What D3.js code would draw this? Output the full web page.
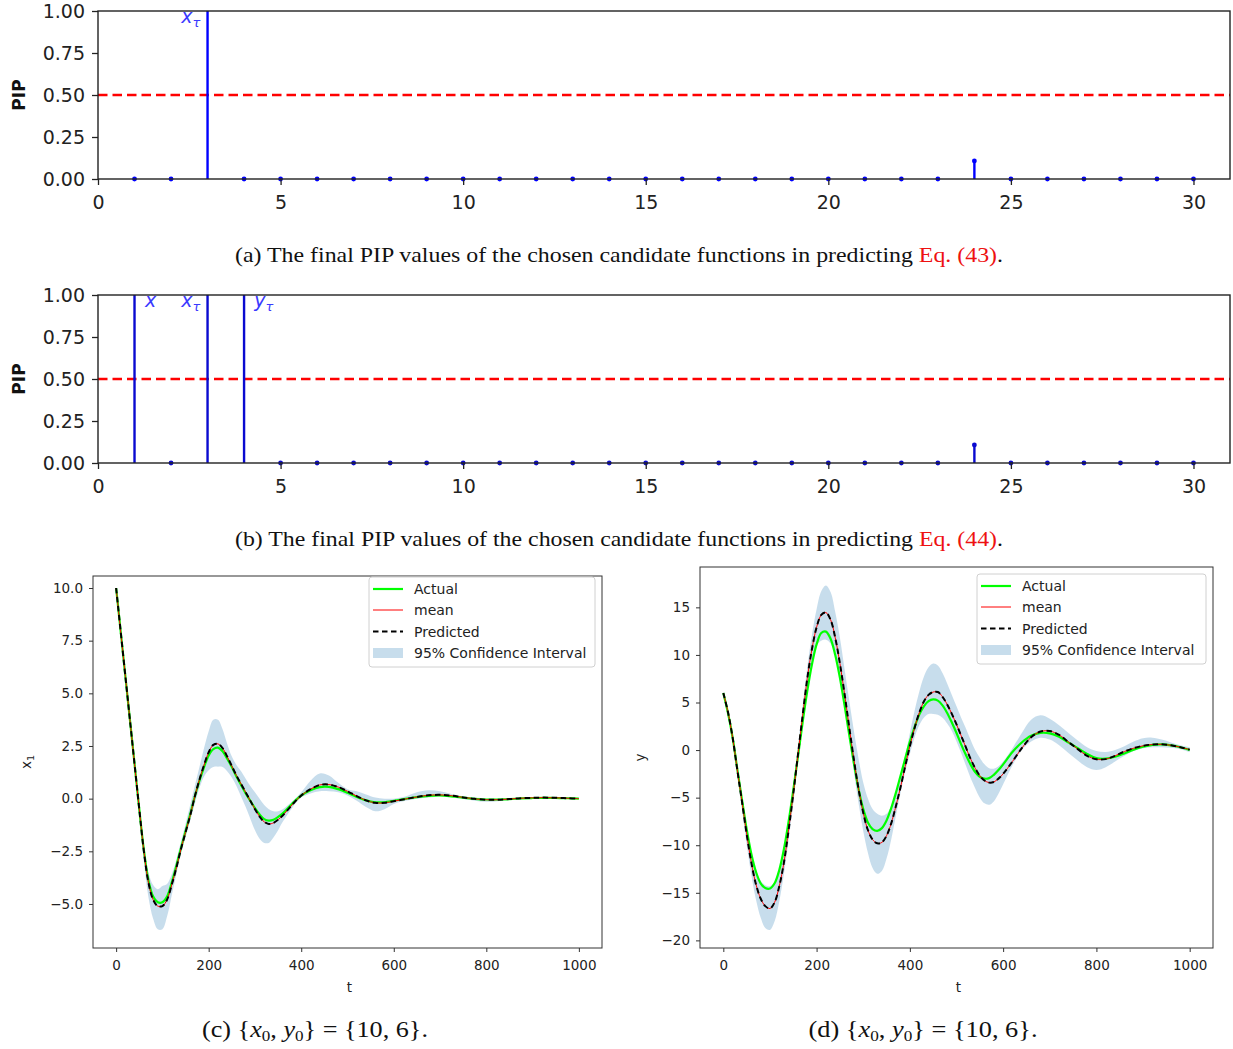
<!DOCTYPE html>
<html>
<head>
<meta charset="utf-8">
<script src="https://cdn.jsdelivr.net/npm/d3@7"></script>
<style>
  html, body { margin: 0; padding: 0; background: #fff; }
  svg { display: block; }
  .tick text { fill: #222; }
</style>
</head>
<body>
<script>
// ---------- PIP stem plots (a), (b) ----------
const pipIndex = d3.range(1, 31);
const pipA = [0, 0, 1, 0, 0, 0, 0, 0, 0, 0, 0, 0, 0, 0, 0, 0, 0, 0, 0, 0, 0, 0, 0, 0.107, 0, 0, 0, 0, 0, 0];
const pipB = [1, 0, 1, 1, 0, 0, 0, 0, 0, 0, 0, 0, 0, 0, 0, 0, 0, 0, 0, 0, 0, 0, 0, 0.107, 0, 0, 0, 0, 0, 0];
const pipXTicks = [0, 5, 10, 15, 20, 25, 30];
const pipYTicks = [0, 0.25, 0.5, 0.75, 1];
const pipThreshold = 0.5;
const pipLabelsA = [{ at: 2.28, base: "x", sub: "τ" }];
const pipLabelsB = [{ at: 1.29, base: "x", sub: "" }, { at: 2.28, base: "x", sub: "τ" }, { at: 4.28, base: "y", sub: "τ" }];
const captionA = ["(a) The final PIP values of the chosen candidate functions in predicting ", "Eq. (43)", "."];
const captionB = ["(b) The final PIP values of the chosen candidate functions in predicting ", "Eq. (44)", "."];

// ---------- time series (c): x1 ----------
const tC =      [0, 10, 20, 30, 40, 50, 60, 70, 80, 90, 100, 110, 120, 130, 140, 150, 160, 170, 180, 190, 200, 210, 220, 230, 240, 250, 260, 270, 280, 290, 300, 310, 320, 330, 340, 350, 360, 380, 400, 420, 440, 460, 480, 500, 520, 540, 560, 580, 600, 625, 650, 675, 700, 725, 750, 775, 800, 825, 850, 875, 900, 925, 950, 975, 1000];
const actualC = [10.0, 7.9, 5.8, 3.7, 1.6, -0.5, -2.45, -3.9, -4.65, -4.92, -4.92, -4.65, -4.0, -3.2, -2.35, -1.55, -0.75, 0.1, 0.85, 1.5, 2.05, 2.35, 2.42, 2.25, 1.9, 1.5, 1.05, 0.65, 0.25, -0.1, -0.45, -0.75, -0.97, -1.04, -1.0, -0.87, -0.7, -0.25, 0.15, 0.4, 0.55, 0.56, 0.45, 0.28, 0.08, -0.08, -0.17, -0.17, -0.1, -0.01, 0.07, 0.13, 0.15, 0.11, 0.05, -0.01, -0.04, -0.04, -0.02, 0.01, 0.03, 0.04, 0.03, 0.02, 0.0];
const predC =   [10.0, 7.9, 5.8, 3.7, 1.6, -0.5, -2.5, -4.0, -4.8, -5.1, -5.1, -4.8, -4.1, -3.3, -2.4, -1.6, -0.8, 0.1, 0.9, 1.6, 2.2, 2.55, 2.6, 2.4, 2.0, 1.55, 1.1, 0.7, 0.3, -0.1, -0.5, -0.85, -1.1, -1.2, -1.15, -1.0, -0.8, -0.3, 0.15, 0.45, 0.65, 0.67, 0.55, 0.35, 0.12, -0.08, -0.2, -0.2, -0.12, -0.02, 0.08, 0.16, 0.18, 0.14, 0.06, -0.01, -0.05, -0.05, -0.02, 0.02, 0.04, 0.05, 0.04, 0.02, 0.0];
const meanC = predC;
const loC =     [9.98, 7.85, 5.7, 3.55, 1.35, -0.85, -3.0, -4.7, -5.7, -6.2, -6.2, -5.6, -4.6, -3.6, -2.65, -1.85, -1.05, -0.25, 0.5, 1.05, 1.35, 1.5, 1.52, 1.5, 1.3, 1.0, 0.6, 0.1, -0.4, -0.95, -1.5, -1.9, -2.1, -2.1, -1.85, -1.5, -1.1, -0.45, 0.05, 0.25, 0.35, 0.35, 0.3, 0.15, -0.1, -0.4, -0.6, -0.5, -0.25, -0.1, 0.0, 0.05, 0.1, 0.05, -0.02, -0.1, -0.15, -0.12, -0.05, 0.0, 0.01, 0.02, 0.02, 0.01, -0.01];
const hiC =     [10.02, 7.95, 5.9, 3.85, 1.85, -0.2, -2.1, -3.5, -4.1, -4.3, -4.15, -4.05, -3.6, -2.9, -2.05, -1.2, -0.3, 0.6, 1.5, 2.4, 3.2, 3.75, 3.75, 3.3, 2.6, 2.0, 1.6, 1.3, 0.95, 0.6, 0.3, 0.0, -0.3, -0.5, -0.6, -0.6, -0.5, -0.15, 0.3, 0.85, 1.2, 1.1, 0.75, 0.45, 0.35, 0.2, 0.05, 0.0, 0.0, 0.1, 0.3, 0.4, 0.35, 0.22, 0.12, 0.05, 0.0, 0.0, 0.02, 0.06, 0.08, 0.08, 0.06, 0.04, 0.01];
const yTicksC = [-5, -2.5, 0, 2.5, 5, 7.5, 10];

// ---------- time series (d): y ----------
const tD =      [0, 10, 20, 30, 40, 50, 60, 70, 80, 90, 100, 110, 120, 130, 140, 150, 160, 170, 180, 190, 200, 210, 220, 230, 240, 250, 260, 270, 280, 290, 300, 310, 320, 330, 340, 350, 360, 370, 380, 390, 400, 410, 420, 430, 440, 450, 460, 470, 480, 490, 500, 510, 520, 530, 540, 550, 560, 570, 580, 590, 600, 620, 640, 660, 680, 700, 720, 740, 760, 780, 800, 820, 840, 860, 880, 900, 920, 940, 960, 980, 1000];
const actualD = [6, 3.9, 1.3, -2.0, -5.2, -8.3, -10.9, -12.8, -14.0, -14.5, -14.55, -14.0, -12.6, -10.4, -7.5, -4.2, -0.7, 2.9, 6.2, 9.0, 11.1, 12.3, 12.45, 11.7, 10.0, 7.6, 4.7, 1.6, -1.4, -4.1, -6.2, -7.6, -8.3, -8.5, -8.2, -7.4, -6.1, -4.5, -2.7, -0.9, 0.9, 2.4, 3.7, 4.6, 5.15, 5.33, 5.2, 4.7, 3.9, 2.9, 1.8, 0.6, -0.5, -1.5, -2.3, -2.8, -3.0, -2.95, -2.6, -2.1, -1.5, -0.2, 0.8, 1.5, 1.8, 1.75, 1.4, 0.8, 0.2, -0.4, -0.85, -0.9, -0.7, -0.35, 0.05, 0.35, 0.55, 0.6, 0.5, 0.3, 0.0];
const predD =   [6, 4.0, 1.3, -2.1, -5.4, -8.8, -11.8, -14.1, -15.6, -16.4, -16.65, -16.0, -14.3, -11.8, -8.4, -4.6, -0.5, 3.6, 7.5, 10.6, 12.9, 14.2, 14.45, 13.7, 11.8, 9.1, 5.9, 2.4, -1.0, -4.1, -6.6, -8.4, -9.4, -9.8, -9.7, -9.0, -7.7, -5.9, -3.9, -1.7, 0.4, 2.3, 3.9, 5.1, 5.8, 6.1, 6.1, 5.6, 4.8, 3.8, 2.7, 1.5, 0.3, -0.9, -1.9, -2.7, -3.2, -3.42, -3.35, -3.0, -2.5, -1.2, 0.2, 1.35, 1.95, 2.0, 1.6, 0.85, 0.1, -0.6, -0.97, -0.95, -0.6, -0.15, 0.2, 0.45, 0.58, 0.6, 0.5, 0.3, 0.05];
const meanD = predD;
const loD =     [5.9, 3.7, 0.9, -2.7, -6.3, -9.9, -13.1, -15.7, -17.6, -18.7, -18.9, -18.0, -15.9, -13.0, -9.5, -5.6, -1.4, 2.7, 6.5, 9.3, 11.0, 11.5, 11.6, 11.2, 9.9, 7.6, 4.6, 1.2, -2.3, -5.6, -8.5, -10.8, -12.4, -13.0, -12.7, -11.4, -9.4, -6.9, -4.5, -2.3, -0.4, 1.3, 2.6, 3.4, 3.8, 3.8, 3.7, 3.4, 2.8, 2.0, 0.9, -0.3, -1.6, -2.9, -4.0, -5.0, -5.6, -5.75, -5.4, -4.6, -3.6, -1.6, 0.0, 0.9, 1.3, 1.1, 0.5, -0.3, -1.1, -1.8, -2.1, -1.8, -1.2, -0.6, -0.1, 0.2, 0.3, 0.3, 0.25, 0.1, -0.2];
const hiD =     [6.1, 4.2, 1.6, -1.6, -4.9, -8.1, -10.7, -12.6, -13.7, -14.2, -14.3, -13.9, -12.5, -10.2, -7.2, -3.8, 0.4, 4.6, 8.7, 12.1, 14.8, 16.7, 17.3, 16.6, 14.5, 11.8, 8.5, 5.2, 2.0, -0.9, -3.4, -5.1, -6.2, -6.7, -6.9, -6.7, -5.9, -4.6, -2.9, -0.6, 1.8, 4.1, 6.1, 7.7, 8.7, 9.1, 8.9, 8.1, 7.0, 5.8, 4.6, 3.4, 2.3, 1.1, 0.0, -0.8, -1.5, -1.9, -1.95, -1.7, -1.2, 0.2, 1.8, 3.2, 3.65, 3.3, 2.6, 1.8, 1.0, 0.3, -0.1, -0.2, 0.0, 0.4, 0.9, 1.25, 1.3, 1.1, 0.8, 0.5, 0.3];
const yTicksD = [-20, -15, -10, -5, 0, 5, 10, 15];

const tTicks = [0, 200, 400, 600, 800, 1000];
const legendItems = ["Actual", "mean", "Predicted", "95% Confidence Interval"];

// ---------- drawing ----------
const W = 1233, H = 1049;
const svg = d3.select("body").append("svg").attr("width", W).attr("height", H);
const SANS = "DejaVu Sans, sans-serif";
const SERIF = "Liberation Serif, Times New Roman, serif";

function drawPip(g, box, values, labels) {
  const x = d3.scaleLinear().domain([0, 31]).range([box.left, box.right]);
  const y = d3.scaleLinear().domain([0, 1]).range([box.bottom, box.top]);

  // threshold
  g.append("line")
    .attr("x1", box.left).attr("x2", box.right)
    .attr("y1", y(pipThreshold)).attr("y2", y(pipThreshold))
    .attr("stroke", "#ff0000").attr("stroke-width", 2.5)
    .attr("stroke-dasharray", "9.5,5");

  // stems; markers reaching the upper limit fall outside the plot area
  const stems = g.append("g");
  pipIndex.forEach((idx, i) => {
    const v = values[i];
    stems.append("line")
      .attr("x1", x(idx)).attr("x2", x(idx))
      .attr("y1", y(0)).attr("y2", y(v))
      .attr("stroke", box.stemColor).attr("stroke-width", 2.4);
    if (v < 1) {
      stems.append("circle")
        .attr("cx", x(idx)).attr("cy", y(v)).attr("r", 2.4)
        .attr("fill", box.stemColor);
    }
  });

  // labels for selected terms
  labels.forEach(l => {
    const t = g.append("text")
      .attr("x", x(l.at)).attr("y", y(1) + 12)
      .attr("font-family", SANS).attr("font-style", "italic")
      .attr("font-size", 19).attr("fill", "#3a3aff");
    t.append("tspan").text(l.base);
    if (l.sub) t.append("tspan").attr("font-size", 13).attr("dy", 4).text(l.sub);
  });

  // frame
  g.append("rect")
    .attr("x", box.left).attr("y", box.top)
    .attr("width", box.right - box.left).attr("height", box.bottom - box.top)
    .attr("fill", "none").attr("stroke", "#222").attr("stroke-width", 1.4);

  const ax = g.append("g").attr("transform", `translate(0,${box.bottom})`)
    .call(d3.axisBottom(x).tickValues(pipXTicks).tickSize(6).tickPadding(11).tickFormat(d3.format("d")));
  ax.select(".domain").remove();
  ax.selectAll("line").attr("stroke", "#222").attr("stroke-width", 1.3);
  ax.selectAll("text").attr("font-family", SANS).attr("font-size", 19);

  const ay = g.append("g").attr("transform", `translate(${box.left},0)`)
    .call(d3.axisLeft(y).tickValues(pipYTicks).tickSize(6).tickPadding(7).tickFormat(d3.format(".2f")));
  ay.select(".domain").remove();
  ay.selectAll("line").attr("stroke", "#222").attr("stroke-width", 1.3);
  ay.selectAll("text").attr("font-family", SANS).attr("font-size", 19);

  g.append("text")
    .attr("transform", `translate(${box.left - 73},${(box.top + box.bottom) / 2}) rotate(-90)`)
    .attr("text-anchor", "middle").attr("font-family", SANS)
    .attr("font-weight", "bold").attr("font-size", 17).attr("fill", "#111")
    .text("PIP");
}

function drawCaption(cx, cy, parts) {
  const t = svg.append("text")
    .attr("x", cx - 384).attr("y", cy)
    .attr("textLength", 768).attr("lengthAdjust", "spacingAndGlyphs")
    .attr("font-family", SERIF).attr("font-size", 22).attr("fill", "#111");
  t.append("tspan").text(parts[0]);
  t.append("tspan").attr("fill", "#ee1111").text(parts[1]);
  t.append("tspan").text(parts[2]);
}

drawPip(svg.append("g"), { left: 98, right: 1230, top: 11, bottom: 179, stemColor: "#0000ff" }, pipA, pipLabelsA);
drawCaption(619, 262, captionA);
drawPip(svg.append("g"), { left: 98, right: 1230, top: 295, bottom: 463, stemColor: "#0a0ad0" }, pipB, pipLabelsB);
drawCaption(619, 546, captionB);

function drawSeries(g, box, t, actual, mean, pred, lo, hi, yDomain, yTicks, yFmt, yLabel, legendBox) {
  const x = d3.scaleLinear().domain([-50, 1050]).range([box.left, box.right]);
  const y = d3.scaleLinear().domain(yDomain).range([box.bottom, box.top]);
  const idx = d3.range(t.length);
  const curve = d3.curveCatmullRom.alpha(0.5);

  g.append("path")
    .attr("d", d3.area().x(i => x(t[i])).y0(i => y(lo[i])).y1(i => y(hi[i])).curve(curve)(idx))
    .attr("fill", "#1f77b4").attr("fill-opacity", 0.25);

  const line = arr => d3.line().x(i => x(t[i])).y(i => y(arr[i])).curve(curve)(idx);
  g.append("path").attr("d", line(actual)).attr("fill", "none").attr("stroke", "#00ff00").attr("stroke-width", 2.2);
  g.append("path").attr("d", line(mean)).attr("fill", "none").attr("stroke", "#ff0000").attr("stroke-width", 1);
  g.append("path").attr("d", line(pred)).attr("fill", "none").attr("stroke", "#000").attr("stroke-width", 2)
    .attr("stroke-dasharray", "5.5,3.5");

  g.append("rect")
    .attr("x", box.left).attr("y", box.top)
    .attr("width", box.right - box.left).attr("height", box.bottom - box.top)
    .attr("fill", "none").attr("stroke", "#333").attr("stroke-width", 1);

  const ax = g.append("g").attr("transform", `translate(0,${box.bottom})`)
    .call(d3.axisBottom(x).tickValues(tTicks).tickSize(4).tickPadding(8).tickFormat(d3.format("d")));
  ax.select(".domain").remove();
  ax.selectAll("line").attr("stroke", "#333");
  ax.selectAll("text").attr("font-family", SANS).attr("font-size", 13.5);

  const ay = g.append("g").attr("transform", `translate(${box.left},0)`)
    .call(d3.axisLeft(y).tickValues(yTicks).tickSize(4).tickPadding(6).tickFormat(yFmt));
  ay.select(".domain").remove();
  ay.selectAll("line").attr("stroke", "#333");
  ay.selectAll("text").attr("font-family", SANS).attr("font-size", 13.5);

  g.append("text")
    .attr("x", (box.left + box.right) / 2 + 2).attr("y", box.bottom + 44)
    .attr("text-anchor", "middle").attr("font-family", SANS).attr("font-size", 13.5).attr("fill", "#222")
    .text("t");

  const yl = g.append("text")
    .attr("transform", `translate(${box.left + yLabel.dx},${(box.top + box.bottom) / 2}) rotate(-90)`)
    .attr("text-anchor", "middle").attr("font-family", SANS).attr("font-size", 13.5).attr("fill", "#222");
  yl.append("tspan").text(yLabel.base);
  if (yLabel.sub) yl.append("tspan").attr("font-size", 9.5).attr("dy", 3).text(yLabel.sub);

  // legend
  const lg = g.append("g").attr("transform", `translate(${legendBox.x},${legendBox.y})`);
  lg.append("rect").attr("width", legendBox.w).attr("height", 90).attr("rx", 3)
    .attr("fill", "#fff").attr("fill-opacity", 0.8).attr("stroke", "#d0d0d0").attr("stroke-width", 1);
  const rowY = [12, 33, 54.5, 76];
  legendItems.forEach((name, i) => {
    const yy = rowY[i];
    if (i === 0) lg.append("line").attr("x1", 4).attr("x2", 34).attr("y1", yy).attr("y2", yy).attr("stroke", "#00ff00").attr("stroke-width", 2.2);
    if (i === 1) lg.append("line").attr("x1", 4).attr("x2", 34).attr("y1", yy).attr("y2", yy).attr("stroke", "#ff0000").attr("stroke-width", 1);
    if (i === 2) lg.append("line").attr("x1", 4).attr("x2", 34).attr("y1", yy).attr("y2", yy).attr("stroke", "#000").attr("stroke-width", 2).attr("stroke-dasharray", "5.5,3.5");
    if (i === 3) lg.append("rect").attr("x", 4).attr("y", yy - 5).attr("width", 30).attr("height", 10).attr("fill", "#1f77b4").attr("fill-opacity", 0.25);
    lg.append("text").attr("x", 45).attr("y", yy + 5)
      .attr("font-family", SANS).attr("font-size", 14).attr("fill", "#222").text(name);
  });
}

drawSeries(svg.append("g"), { left: 93, right: 602, top: 576, bottom: 948 },
  tC, actualC, meanC, predC, loC, hiC, [-7.09, 10.57], yTicksC, d3.format(".1f"),
  { base: "x", sub: "1", dx: -62 }, { x: 369, y: 577, w: 226 });

drawSeries(svg.append("g"), { left: 700, right: 1213, top: 567, bottom: 948 },
  tD, actualD, meanD, predD, loD, hiD, [-20.8, 19.24], yTicksD, d3.format("d"),
  { base: "y", sub: "", dx: -55 }, { x: 977, y: 574, w: 229 });

// sub-captions with inline math
function mathCaption(cx, cy, letter, width) {
  const t = svg.append("text").attr("x", cx - width / 2).attr("y", cy)
    .attr("textLength", width).attr("lengthAdjust", "spacingAndGlyphs")
    .attr("font-family", SERIF).attr("font-size", 23).attr("fill", "#111");
  t.append("tspan").text(`(${letter}) {`);
  t.append("tspan").attr("font-style", "italic").text("x");
  t.append("tspan").attr("font-size", 15).attr("dy", 4).text("0");
  t.append("tspan").attr("dy", -4).text(", ");
  t.append("tspan").attr("font-style", "italic").text("y");
  t.append("tspan").attr("font-size", 15).attr("dy", 4).text("0");
  t.append("tspan").attr("dy", -4).text("} = {10, 6}.");
}
mathCaption(315, 1037, "c", 226);
mathCaption(923, 1037, "d", 229);
</script>
</body>
</html>
